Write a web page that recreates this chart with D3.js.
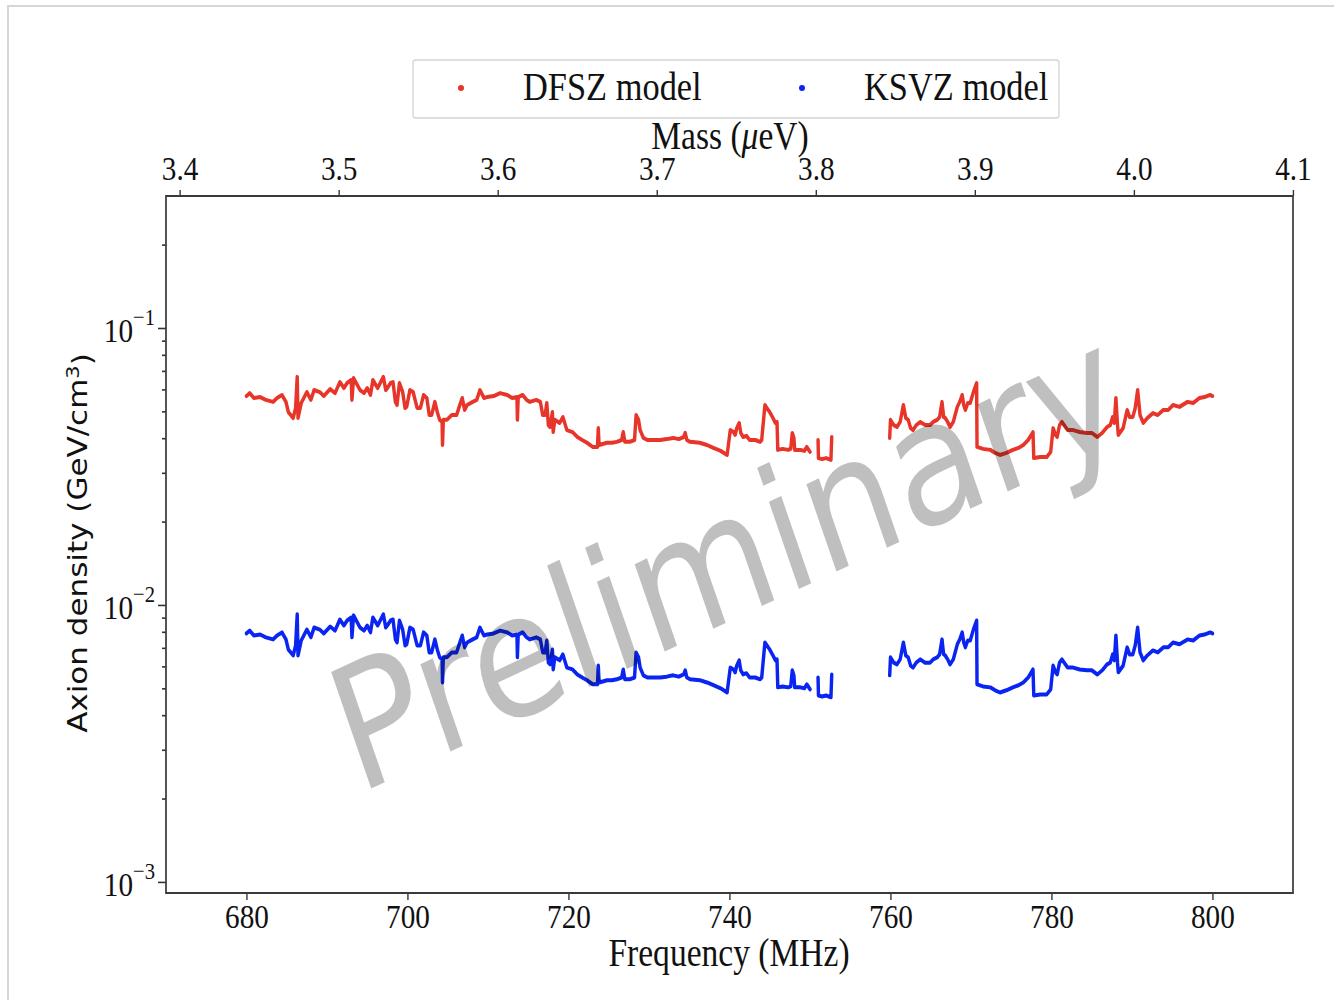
<!DOCTYPE html>
<html>
<head>
<meta charset="utf-8">
<title>Axion density vs frequency</title>
<script src="https://cdn.jsdelivr.net/npm/d3@7"></script>
<style>
  body { margin: 0; background: #fff; }
  .serif { font-family: "Liberation Serif", "Times New Roman", serif; fill: #111; }
  .axis path.domain { display: none; }
  .axis line { stroke: #333; stroke-width: 1.6; }
  .axis text { font-family: "Liberation Serif", "Times New Roman", serif; font-size: 34px; fill: #111; }
  .frame { fill: none; stroke: #3a3a3a; stroke-width: 2; }
  .series { fill: none; stroke-width: 4; stroke-linejoin: round; stroke-linecap: round; }
</style>
</head>
<body>
<div id="chart"></div>
<script>
var width  = 1334;
var height = 1000;
var SX     = 0.86;   // the source figure is squeezed horizontally

// ---- data ----
var freqTicks    = [680, 700, 720, 740, 760, 780, 800];
var massTicks    = [3.4, 3.5, 3.6, 3.7, 3.8, 3.9, 4.0, 4.1];
var densityTicks = [1e-3, 1e-2, 1e-1];
var freqDomain    = [670, 810];
var massDomain    = [3.3914, 4.1];
var densityDomain = [9.12e-4, 0.2996];
var seriesNames   = ["DFSZ model", "KSVZ model"];
var seriesColors  = ["#e8352a", "#0a24f2"];

// [frequency MHz, density GeV/cm^3], null = no data
var dfsz = [
  [680.0,0.0568],[680.4,0.0582],[680.9,0.0559],[681.7,0.0563],[682.4,0.0550],[683.3,0.0541],[683.8,0.0559],
  [684.4,0.0573],[684.9,0.0541],[685.2,0.0497],[685.8,0.0473],[686.1,0.0514],[686.3,0.0666],[686.4,0.0473],
  [686.8,0.0536],[687.5,0.0587],[688.0,0.0550],[688.4,0.0597],[689.1,0.0587],[689.6,0.0568],[690.4,0.0602],
  [691.0,0.0582],[691.6,0.0638],[692.1,0.0607],[692.5,0.0633],[693.0,0.0649],[693.1,0.0550],[693.3,0.0660],
  [694.1,0.0597],[694.6,0.0582],[695.0,0.0607],[695.4,0.0573],[695.7,0.0649],[696.3,0.0607],[697.0,0.0666],
  [697.3,0.0597],[697.5,0.0607],[697.9,0.0633],[698.2,0.0638],[698.5,0.0541],[698.7,0.0527],[699.0,0.0633],
  [699.4,0.0587],[699.7,0.0514],[699.9,0.0519],[700.3,0.0597],[700.7,0.0587],[701.2,0.0514],[701.6,0.0514],
  [702.0,0.0573],[702.4,0.0559],[702.7,0.0485],[703.0,0.0485],[703.4,0.0541],[703.7,0.0497],[704.0,0.0466],
  [704.3,0.0458],[704.35,0.0378],[704.45,0.0466],[704.9,0.0466],[705.5,0.0485],[706.1,0.0485],[706.5,0.0527],
  [706.8,0.0559],[707.1,0.0506],[707.4,0.0527],[708.1,0.0541],[708.6,0.0550],[709.0,0.0597],[709.5,0.0559],
  [709.9,0.0563],[710.7,0.0568],[711.5,0.0582],[712.4,0.0573],[713.0,0.0559],[713.6,0.0563],[713.65,0.0466],
  [713.75,0.0563],[714.3,0.0573],[714.8,0.0550],[715.2,0.0541],[716.0,0.0550],[716.5,0.0541],[716.8,0.0485],
  [717.1,0.0485],[717.3,0.0536],[717.5,0.0446],[717.7,0.0439],[718.0,0.0497],[718.1,0.0421],[718.3,0.0466],
  [718.9,0.0454],[719.3,0.0477],[719.8,0.0428],[720.5,0.0421],[721.1,0.0404],[721.7,0.0394],[722.3,0.0385],
  [723.0,0.0372],[723.6,0.0372],[723.7,0.0435],[723.8,0.0378],[724.8,0.0385],[725.4,0.0385],[726.0,0.0388],
  [726.6,0.0394],[726.8,0.0421],[727.0,0.0388],[727.6,0.0388],[728.2,0.0394],[728.4,0.0485],[728.7,0.0466],
  [728.9,0.0428],[729.3,0.0401],[729.8,0.0394],[730.6,0.0394],[731.4,0.0394],[732.2,0.0397],[733.0,0.0401],
  [733.7,0.0397],[734.3,0.0404],[734.5,0.0418],[734.7,0.0394],[735.1,0.0388],[736.3,0.0385],[737.2,0.0378],
  [738.0,0.0369],[738.9,0.0360],[739.7,0.0348],[740.1,0.0428],[740.5,0.0421],[740.7,0.0411],[740.9,0.0435],
  [741.2,0.0454],[741.4,0.0418],[741.7,0.0404],[742.1,0.0408],[742.5,0.0394],[743.2,0.0394],[743.8,0.0388],
  [744.0,0.0394],[744.4,0.0527],[744.8,0.0506],[745.0,0.0497],[745.4,0.0473],[745.7,0.0454],[745.9,0.0458],
  [746.0,0.0363],[746.6,0.0366],[747.3,0.0363],[747.6,0.0366],[747.8,0.0418],[748.0,0.0401],[748.1,0.0363],
  [748.8,0.0363],[749.3,0.0360],[749.6,0.0372],[750.0,0.0357],
  null,
  [751.0,0.0394],[751.05,0.0339],[751.5,0.0336],[752.0,0.0339],[752.6,0.0334],[752.7,0.0404],
  null,
  [759.9,0.0401],[760.0,0.0466],[760.4,0.0446],[760.8,0.0439],[761.2,0.0458],[761.6,0.0527],[761.9,0.0473],
  [762.2,0.0466],[762.5,0.0435],[762.8,0.0428],[763.2,0.0446],[763.7,0.0458],[764.3,0.0446],[764.9,0.0446],
  [765.3,0.0458],[765.8,0.0466],[766.1,0.0477],[766.4,0.0541],[766.6,0.0477],[766.8,0.0473],[767.1,0.0458],
  [767.4,0.0439],[767.8,0.0458],[768.3,0.0519],[768.6,0.0541],[768.9,0.0573],[769.1,0.0527],[769.3,0.0506],
  [769.6,0.0536],[769.9,0.0536],[770.3,0.0587],[770.7,0.0633],[770.75,0.0372],[771.5,0.0366],[772.4,0.0363],
  [773.0,0.0354],[773.6,0.0348],[774.4,0.0354],[775.2,0.0363],[775.9,0.0369],[776.5,0.0378],[777.1,0.0394],
  [777.7,0.0421],[777.8,0.0339],[778.6,0.0342],[779.4,0.0342],[779.9,0.0357],[780.2,0.0435],[780.5,0.0411],
  [780.7,0.0404],[781.0,0.0446],[781.3,0.0458],[782.0,0.0428],[782.7,0.0428],[783.5,0.0421],[784.4,0.0418],
  [785.0,0.0418],[785.7,0.0404],[786.3,0.0418],[786.9,0.0439],[787.3,0.0446],[787.6,0.0477],[787.8,0.0454],
  [788.0,0.0559],[788.2,0.0446],[788.3,0.0411],[788.9,0.0435],[789.4,0.0506],[789.7,0.0477],[790.1,0.0477],
  [790.4,0.0514],[790.7,0.0597],[791.0,0.0485],[791.4,0.0454],[791.9,0.0473],[792.6,0.0493],[793.2,0.0485],
  [793.9,0.0506],[794.5,0.0506],[795.1,0.0527],[795.9,0.0519],[796.9,0.0541],[797.6,0.0536],[798.4,0.0559],
  [799.0,0.0563],[799.7,0.0573],[800.0,0.0568]
];

var ksvz = [
  [680.0,0.00789],[680.4,0.00808],[680.9,0.00776],[681.7,0.00782],[682.4,0.00764],[683.3,0.00751],[683.8,0.00776],
  [684.4,0.00796],[684.9,0.00751],[685.2,0.00690],[685.8,0.00657],[686.1,0.00714],[686.3,0.00925],[686.4,0.00657],
  [686.8,0.00744],[687.5,0.00815],[688.0,0.00764],[688.4,0.00829],[689.1,0.00815],[689.6,0.00789],[690.4,0.00836],
  [691.0,0.00808],[691.6,0.00886],[692.1,0.00843],[692.5,0.00879],[693.0,0.00901],[693.1,0.00764],[693.3,0.00917],
  [694.1,0.00829],[694.6,0.00808],[695.0,0.00843],[695.4,0.00796],[695.7,0.00901],[696.3,0.00843],[697.0,0.00925],
  [697.3,0.00829],[697.5,0.00843],[697.9,0.00879],[698.2,0.00886],[698.5,0.00751],[698.7,0.00732],[699.0,0.00879],
  [699.4,0.00815],[699.7,0.00714],[699.9,0.00721],[700.3,0.00829],[700.7,0.00815],[701.2,0.00714],[701.6,0.00714],
  [702.0,0.00796],[702.4,0.00776],[702.7,0.00674],[703.0,0.00674],[703.4,0.00751],[703.7,0.00690],[704.0,0.00647],
  [704.3,0.00636],[704.35,0.00525],[704.45,0.00647],[704.9,0.00647],[705.5,0.00674],[706.1,0.00674],[706.5,0.00732],
  [706.8,0.00776],[707.1,0.00703],[707.4,0.00732],[708.1,0.00751],[708.6,0.00764],[709.0,0.00829],[709.5,0.00776],
  [709.9,0.00782],[710.7,0.00789],[711.5,0.00808],[712.4,0.00796],[713.0,0.00776],[713.6,0.00782],[713.65,0.00647],
  [713.75,0.00782],[714.3,0.00796],[714.8,0.00764],[715.2,0.00751],[716.0,0.00764],[716.5,0.00751],[716.8,0.00674],
  [717.1,0.00674],[717.3,0.00744],[717.5,0.00619],[717.7,0.00610],[718.0,0.00690],[718.1,0.00585],[718.3,0.00647],
  [718.9,0.00631],[719.3,0.00663],[719.8,0.00594],[720.5,0.00585],[721.1,0.00561],[721.7,0.00547],[722.3,0.00535],
  [723.0,0.00517],[723.6,0.00517],[723.7,0.00604],[723.8,0.00525],[724.8,0.00535],[725.4,0.00535],[726.0,0.00539],
  [726.6,0.00547],[726.8,0.00585],[727.0,0.00539],[727.6,0.00539],[728.2,0.00547],[728.4,0.00674],[728.7,0.00647],
  [728.9,0.00594],[729.3,0.00557],[729.8,0.00547],[730.6,0.00547],[731.4,0.00547],[732.2,0.00551],[733.0,0.00557],
  [733.7,0.00551],[734.3,0.00561],[734.5,0.00581],[734.7,0.00547],[735.1,0.00539],[736.3,0.00535],[737.2,0.00525],
  [738.0,0.00513],[738.9,0.00500],[739.7,0.00483],[740.1,0.00594],[740.5,0.00585],[740.7,0.00571],[740.9,0.00604],
  [741.2,0.00631],[741.4,0.00581],[741.7,0.00561],[742.1,0.00567],[742.5,0.00547],[743.2,0.00547],[743.8,0.00539],
  [744.0,0.00547],[744.4,0.00732],[744.8,0.00703],[745.0,0.00690],[745.4,0.00657],[745.7,0.00631],[745.9,0.00636],
  [746.0,0.00504],[746.6,0.00508],[747.3,0.00504],[747.6,0.00508],[747.8,0.00581],[748.0,0.00557],[748.1,0.00504],
  [748.8,0.00504],[749.3,0.00500],[749.6,0.00517],[750.0,0.00496],
  null,
  [751.0,0.00547],[751.05,0.00471],[751.5,0.00467],[752.0,0.00471],[752.6,0.00464],[752.7,0.00561],
  null,
  [759.9,0.00557],[760.0,0.00647],[760.4,0.00619],[760.8,0.00610],[761.2,0.00636],[761.6,0.00732],[761.9,0.00657],
  [762.2,0.00647],[762.5,0.00604],[762.8,0.00594],[763.2,0.00619],[763.7,0.00636],[764.3,0.00619],[764.9,0.00619],
  [765.3,0.00636],[765.8,0.00647],[766.1,0.00663],[766.4,0.00751],[766.6,0.00663],[766.8,0.00657],[767.1,0.00636],
  [767.4,0.00610],[767.8,0.00636],[768.3,0.00721],[768.6,0.00751],[768.9,0.00796],[769.1,0.00732],[769.3,0.00703],
  [769.6,0.00744],[769.9,0.00744],[770.3,0.00815],[770.7,0.00879],[770.75,0.00517],[771.5,0.00508],[772.4,0.00504],
  [773.0,0.00492],[773.6,0.00483],[774.4,0.00492],[775.2,0.00504],[775.9,0.00513],[776.5,0.00525],[777.1,0.00547],
  [777.7,0.00585],[777.8,0.00471],[778.6,0.00475],[779.4,0.00475],[779.9,0.00496],[780.2,0.00604],[780.5,0.00571],
  [780.7,0.00561],[781.0,0.00619],[781.3,0.00636],[782.0,0.00594],[782.7,0.00594],[783.5,0.00585],[784.4,0.00581],
  [785.0,0.00581],[785.7,0.00561],[786.3,0.00581],[786.9,0.00610],[787.3,0.00619],[787.6,0.00663],[787.8,0.00631],
  [788.0,0.00776],[788.2,0.00619],[788.3,0.00571],[788.9,0.00604],[789.4,0.00703],[789.7,0.00663],[790.1,0.00663],
  [790.4,0.00714],[790.7,0.00829],[791.0,0.00674],[791.4,0.00631],[791.9,0.00657],[792.6,0.00685],[793.2,0.00674],
  [793.9,0.00703],[794.5,0.00703],[795.1,0.00732],[795.9,0.00721],[796.9,0.00751],[797.6,0.00744],[798.4,0.00776],
  [799.0,0.00782],[799.7,0.00796],[800.0,0.00789]
];

// ---- layout (page pixels) ----
var plotLeft = 166, plotRight = 1293, plotTop = 196, plotBottom = 893;

var svg = d3.select("#chart")
  .append("svg")
    .attr("width",  width)
    .attr("height", height);

// light page border of the original figure
svg.append("path")
  .attr("d", "M8,1000V6H1334")
  .attr("fill", "none")
  .attr("stroke", "#d6d6d6")
  .attr("stroke-width", 2);

// everything else is drawn in a horizontally squeezed frame
var root = svg.append("g").attr("transform", "scale(" + SX + ",1)");
function px(v) { return v / SX; }

var x = d3.scaleLinear().domain(freqDomain).range([px(plotLeft), px(plotRight)]);
var xm = d3.scaleLinear().domain(massDomain).range([px(plotLeft), px(plotRight)]);
var y = d3.scaleLog().domain(densityDomain).range([plotBottom, plotTop]);

// ---- series ----
var line = d3.line()
  .defined(function(d) { return d !== null; })
  .x(function(d) { return x(d[0]); })
  .y(function(d) { return y(d[1]); });

[dfsz, ksvz].forEach(function(s, i) {
  root.append("path")
    .attr("class", "series")
    .attr("stroke", seriesColors[i])
    .attr("d", line(s));
});

// ---- watermark ----
var wmAngle = Math.atan(Math.tan(25 * Math.PI / 180) * SX) * 180 / Math.PI;
root.append("text")
  .attr("transform", "translate(" + px(726) + ",558) rotate(" + (-wmAngle) + ")")
  .attr("text-anchor", "middle")
  .attr("dy", "0.35em")
  .style("font-family", "'DejaVu Sans', sans-serif")
  .style("font-size", "172px")
  .style("fill", "#000")
  .style("fill-opacity", 0.25)
  .text("Preliminary");

// ---- axes ----
root.append("g")
  .attr("class", "axis")
  .attr("transform", "translate(0," + plotBottom + ")")
  .call(d3.axisBottom(x).tickValues(freqTicks).tickSize(7).tickPadding(4).tickFormat(d3.format("d")));

root.append("g")
  .attr("class", "axis")
  .attr("transform", "translate(0," + plotTop + ")")
  .call(d3.axisTop(xm).tickValues(massTicks).tickSize(6).tickPadding(10).tickFormat(d3.format(".1f")));

// minor log ticks
var minorTicks = [];
for (var e = -4; e <= 0; e++)
  for (var m = 2; m <= 9; m++) {
    var v = m * Math.pow(10, e);
    if (v >= densityDomain[0] && v <= densityDomain[1]) minorTicks.push(v);
  }

root.append("g")
  .attr("class", "axis")
  .attr("transform", "translate(" + px(plotLeft) + ",0)")
  .call(d3.axisLeft(y).tickValues(minorTicks).tickSize(px(4)).tickFormat(""));

var yAxis = root.append("g")
  .attr("class", "axis")
  .attr("transform", "translate(" + px(plotLeft) + ",0)")
  .call(d3.axisLeft(y).tickValues(densityTicks).tickSize(px(8)).tickFormat(""));

yAxis.selectAll(".tick").each(function(d) {
  var t = d3.select(this).append("text")
    .attr("x", -px(11))
    .attr("y", 14)
    .attr("text-anchor", "end");
  t.append("tspan").text("10");
  t.append("tspan")
    .attr("dy", -17)
    .style("font-size", "24px")
    .text("\u2212" + Math.round(-Math.log10(d)));
});

// plot frame
root.append("rect")
  .attr("class", "frame")
  .attr("x", px(plotLeft))
  .attr("y", plotTop)
  .attr("width", px(plotRight) - px(plotLeft))
  .attr("height", plotBottom - plotTop);

// ---- axis titles ----
root.append("text")
  .attr("class", "serif")
  .attr("x", px(729))
  .attr("y", 966)
  .attr("text-anchor", "middle")
  .style("font-size", "39px")
  .text("Frequency (MHz)");

var massTitle = root.append("text")
  .attr("class", "serif")
  .attr("x", px(730))
  .attr("y", 149)
  .attr("text-anchor", "middle")
  .style("font-size", "39px");
massTitle.append("tspan").text("Mass (");
massTitle.append("tspan").style("font-style", "italic").text("\u03bc");
massTitle.append("tspan").text("eV)");

var yTitle = root.append("text")
  .attr("transform", "translate(" + px(87) + "," + 543 + ") rotate(-90)")
  .attr("text-anchor", "middle")
  .style("font-family", "'DejaVu Sans', sans-serif")
  .style("font-size", "31px")
  .style("fill", "#111");
yTitle.append("tspan").text("Axion density (GeV/cm");
yTitle.append("tspan").attr("dy", "-0.45em").style("font-size", "21px").text("3");
yTitle.append("tspan").attr("dy", "0.45em").text(")");

// ---- legend ----
var legend = root.append("g");
legend.append("rect")
  .attr("x", px(413))
  .attr("y", 60)
  .attr("width", px(1059) - px(413))
  .attr("height", 58)
  .attr("rx", 3)
  .attr("fill", "#fff")
  .attr("stroke", "#d4d4d4")
  .attr("stroke-width", 1.5);

var legendX = [461, 802];
seriesNames.forEach(function(name, i) {
  legend.append("ellipse")
    .attr("cx", px(legendX[i]))
    .attr("cy", 88)
    .attr("rx", px(3))
    .attr("ry", 3)
    .attr("fill", seriesColors[i]);
  legend.append("text")
    .attr("class", "serif")
    .attr("x", px(legendX[i] + 62))
    .attr("y", 100)
    .style("font-size", "40px")
    .text(name);
});
</script>
</body>
</html>
